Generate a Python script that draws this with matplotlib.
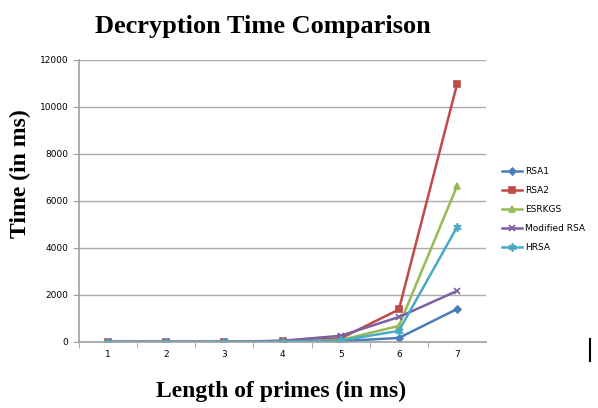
import matplotlib.pyplot as plt
from matplotlib.lines import Line2D

# decryption times (ms) for each prime length
lengths = [1, 2, 3, 4, 5, 6, 7]
rsa1 = [0, 0, 0, 10, 30, 170, 1400]
rsa2 = [0, 0, 0, 40, 150, 1380, 10980]
esrkgs = [0, 0, 0, 20, 80, 680, 6640]
modified_rsa = [0, 0, 0, 50, 260, 1060, 2170]
hrsa = [0, 0, 0, 15, 60, 470, 4890]
names = ["RSA1", "RSA2", "ESRKGS", "Modified RSA", "HRSA"]

series = [rsa1, rsa2, esrkgs, modified_rsa, hrsa]
colors = ["#4A7EBB", "#BE4B48", "#98B954", "#7D60A0", "#46AAC5"]
markers = ["D", "s", "^", "x", (6, 2, 0)]
msizes = [3.5, 5, 5, 5, 6]

fig = plt.figure(figsize=(5.98, 4.08), dpi=100)
ax = fig.add_axes([0.132, 0.162, 0.681, 0.691])

for vals, name, c, m, ms in zip(series, names, colors, markers, msizes):
    ax.plot(lengths, vals, color=c, lw=1.8, marker=m, markersize=ms,
            markeredgewidth=1.2, label=name)

ax.set_xlim(0.5, 7.5)
ax.set_ylim(0, 12000)
ax.set_yticks(range(0, 12001, 2000))
ax.set_xticks(lengths)
ax.set_xticks([x + 0.5 for x in range(0, 7)], minor=True)
ax.tick_params(axis="x", which="major", length=0, labelsize=6.5, pad=6)
ax.tick_params(axis="x", which="minor", length=4, color="#A0A0A0", direction="out")
ax.tick_params(axis="y", length=4, color="#A0A0A0", labelsize=6.5)
ax.yaxis.grid(True, color="#ABABAB", lw=1)
ax.set_axisbelow(True)
for s in ["top", "right"]:
    ax.spines[s].set_visible(False)
for s in ["left", "bottom"]:
    ax.spines[s].set_color("#A0A0A0")
    ax.spines[s].set_linewidth(1.2)

leg = ax.legend(loc="center left", bbox_to_anchor=(1.02, 0.47), frameon=False,
                fontsize=6.5, handlelength=2.2, labelspacing=1.1,
                handletextpad=0.3)

serif = "Liberation Serif"
fig.text(0.44, 0.935, "Decryption Time Comparison", ha="center", va="center",
         fontsize=19, fontweight="bold", family=serif)
fig.text(0.035, 0.575, "Time (in ms)", ha="center", va="center", rotation=90,
         fontsize=17, fontweight="bold", family=serif)
fig.text(0.47, 0.04, "Length of primes (in ms)", ha="center", va="center",
         fontsize=17, fontweight="bold", family=serif)

# small vertical bar near bottom right
fig.add_artist(Line2D([0.986, 0.986], [0.115, 0.168], color="black", lw=1.5))

fig.savefig("out.png", dpi=100)
